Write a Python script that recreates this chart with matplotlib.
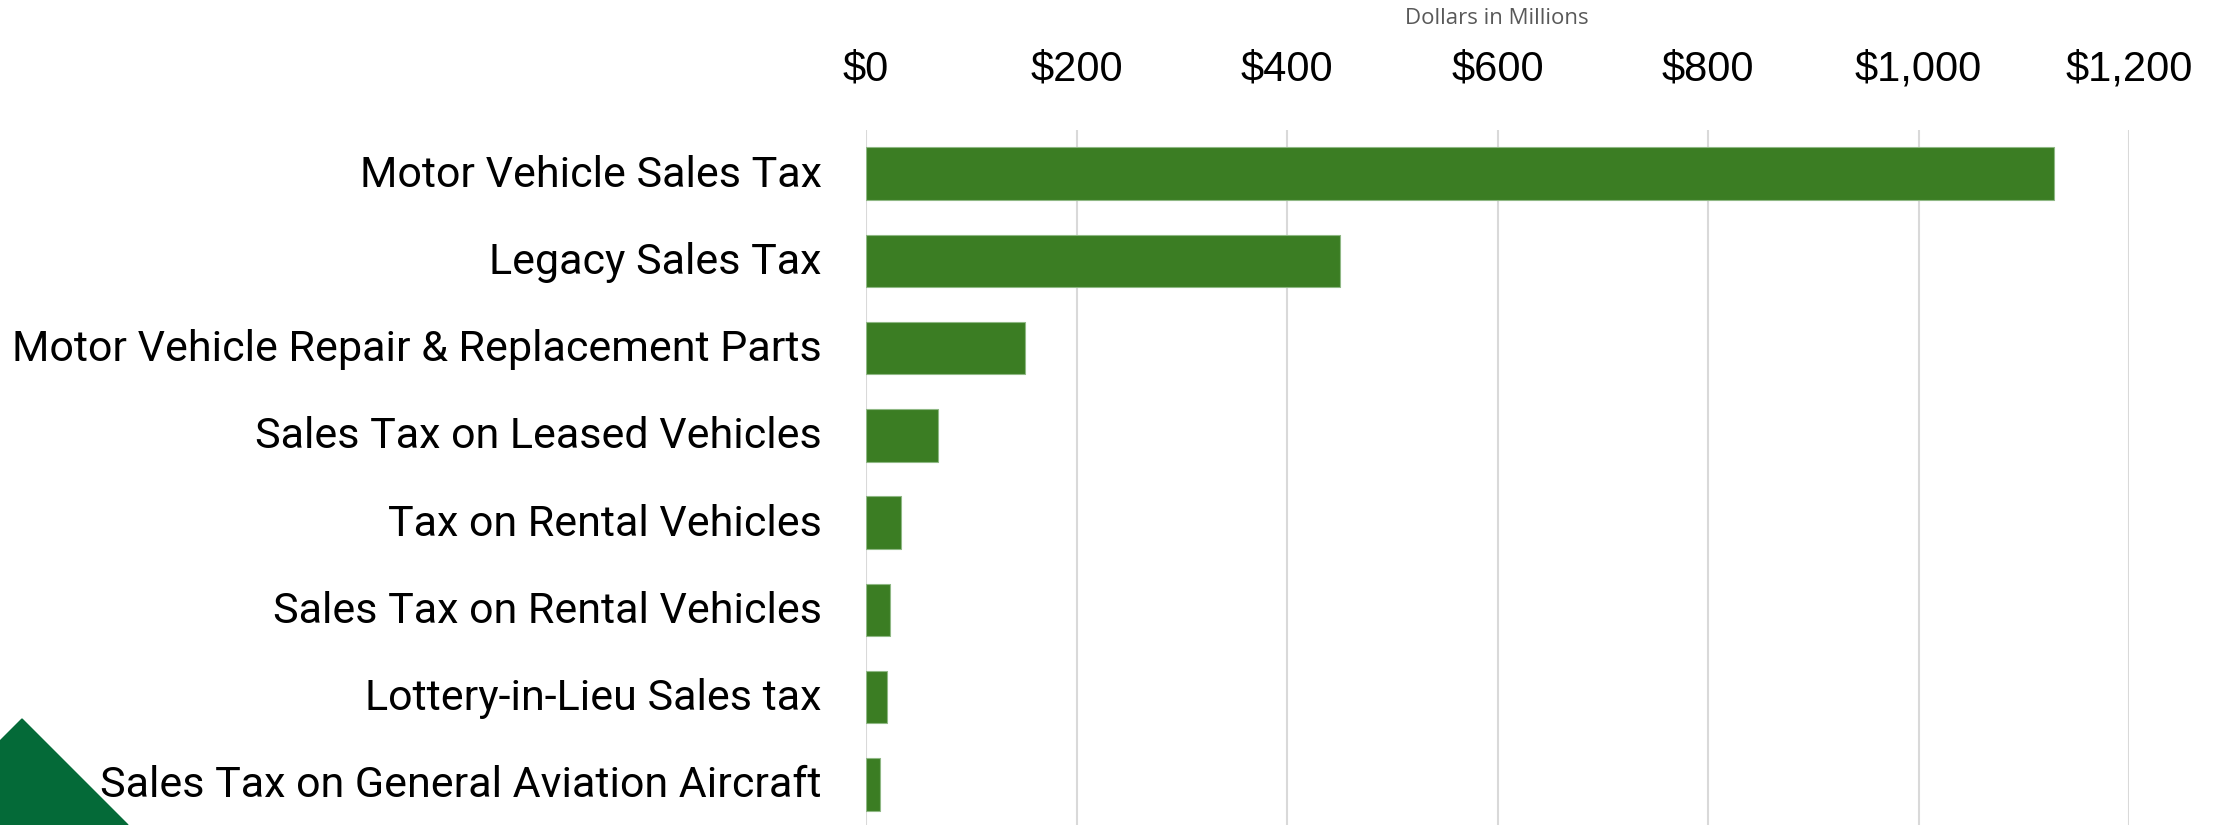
import matplotlib.pyplot as plt
import matplotlib.transforms as mtransforms
from matplotlib.patches import Polygon

categories = [
    "Motor Vehicle Sales Tax",
    "Legacy Sales Tax",
    "Motor Vehicle Repair & Replacement Parts",
    "Sales Tax on Leased Vehicles",
    "Tax on Rental Vehicles",
    "Sales Tax on Rental Vehicles",
    "Lottery-in-Lieu Sales tax",
    "Sales Tax on General Aviation Aircraft",
]
revenue = [1129, 450, 151, 68, 33, 23, 20, 13]  # dollars in millions
ticks = [0, 200, 400, 600, 800, 1000, 1200]
tick_labels = ["$0", "$200", "$400", "$600", "$800", "$1,000", "$1,200"]

W, H = 2220, 825
fig = plt.figure(figsize=(W / 100, H / 100), dpi=100)
ax = fig.add_axes([866 / W, -3 / H, (2129 - 866) / W, 698 / H])

pos = list(range(len(categories)))
ax.barh(pos, revenue, height=0.6, color="#3B7D23", edgecolor="#8FB884", linewidth=0.8, zorder=3)
ax.set_ylim(len(categories) - 0.5, -0.5)
ax.set_xlim(0, 1200)

ax.set_yticks(pos)
ax.set_yticklabels(categories, fontsize=31, fontfamily="Roboto")
ax.tick_params(axis="y", length=0, pad=32)
# nudge category labels up a little
nudge = mtransforms.ScaledTranslation(0, 3 / 100, fig.dpi_scale_trans)
for lbl in ax.get_yticklabels():
    lbl.set_transform(lbl.get_transform() + nudge)

ax.xaxis.tick_top()
ax.set_xticks(ticks)
ax.set_xticklabels(tick_labels, fontsize=30, fontfamily="Liberation Sans")
ax.tick_params(axis="x", length=0, pad=29)
ax.grid(axis="x", color="#D9D9D9", linewidth=1.5, zorder=0)
for s in ax.spines.values():
    s.set_visible(False)

fig.text(1497 / W, 1 - 18 / H, "Dollars in Millions", ha="center", va="center",
         fontsize=16, color="#595959", fontfamily="Open Sans")

# corner triangle
tri = Polygon([(0 / W, 1 - 741 / H), (22 / W, 1 - 719 / H), (128 / W, 0), (0, 0)],
              closed=True, transform=fig.transFigure, color="#046A38", zorder=5)
fig.patches.append(tri)

fig.savefig("out.png", dpi=100)
